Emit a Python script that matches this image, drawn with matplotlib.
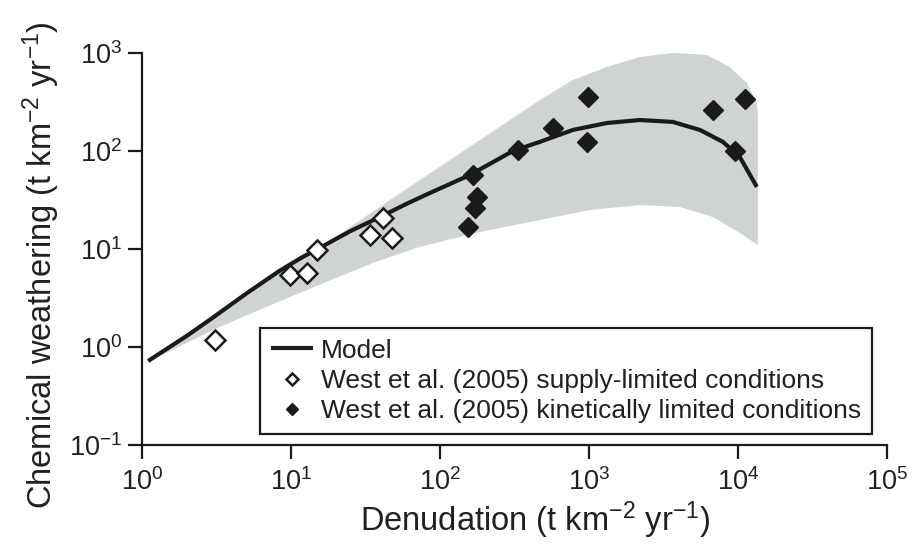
import numpy as np
import matplotlib
matplotlib.use("Agg")
import matplotlib.pyplot as plt

plt.rcParams['font.family'] = ['Liberation Sans', 'DejaVu Sans']
plt.rcParams['mathtext.default'] = 'regular'

# model curve
model_x = [1.1, 2.0, 3.0, 5.0, 8.4, 12.0, 16.4, 25, 39.6, 60, 85.7, 159, 309, 469, 781, 1321, 2200, 3660, 5560, 7930, 10300, 13400]
model_y = [0.72, 1.3, 2.0, 3.5, 6.0, 8.3, 10.7, 15.2, 21.2, 29, 37.3, 56.9, 100, 124, 164, 193, 207, 198, 164, 124, 87, 43]

# uncertainty band edges
upper_x = [1.1, 3.0, 8.4, 16.4, 54, 185, 469, 781, 1321, 2200, 3660, 6190, 8830, 11500, 13400, 13600]
upper_y = [0.72, 2.0, 6.0, 10.9, 37, 129, 331, 530, 720, 910, 1000, 955, 720, 494, 309, 240]
lower_x = [1.13, 3.19, 9.85, 35.5, 73, 185, 469, 1016, 2200, 4080, 6790, 10300, 13600]
lower_y = [0.72, 1.56, 3.24, 7.2, 10.5, 14.9, 19.8, 25, 28.1, 26.8, 21.2, 14.6, 11]

# West et al. (2005) supply-limited
supply_x = [3.1, 9.85, 12.8, 14.9, 33.9, 41.4, 47.6]
supply_y = [1.18, 5.43, 5.7, 9.8, 13.9, 20.7, 12.9]

# West et al. (2005) kinetically limited
kin_x = [166, 177, 172, 154, 334, 573, 985, 970, 6800, 11100, 9550]
kin_y = [56.9, 34, 26.2, 16.8, 102, 172, 356, 124, 262, 340, 100]

txt = '#231f20'

fig = plt.figure(figsize=(9.19, 5.44), dpi=100)
ax = fig.add_axes([0.1545, 0.182, 0.8105, 0.7206])

band_x = upper_x + lower_x[::-1]
band_y = upper_y + lower_y[::-1]
ax.fill(band_x, band_y, color='#cfd3d4', lw=0, zorder=1)

ax.plot(model_x, model_y, color='#1a1a1a', lw=3, zorder=2, label='Model',
        solid_capstyle='butt')
ax.plot(supply_x, supply_y, ls='none', marker='D', ms=10, mfc='white',
        mec='#1a1a1a', mew=1.8, zorder=3,
        label='West et al. (2005) supply-limited conditions')
ax.plot(kin_x, kin_y, ls='none', marker='D', ms=10, mfc='#1a1a1a',
        mec='#1a1a1a', mew=1, zorder=3,
        label='West et al. (2005) kinetically limited conditions')

ax.set_xscale('log')
ax.set_yscale('log')
ax.set_xlim(1, 1e5)
ax.set_ylim(0.1, 1000)
ax.minorticks_off()

for s in ['top', 'right']:
    ax.spines[s].set_visible(False)
for s in ['left', 'bottom']:
    ax.spines[s].set_linewidth(1.6)
    ax.spines[s].set_color('#1a1a1a')

ax.tick_params(axis='both', which='major', direction='out', length=10, width=1.6,
               labelsize=19.5, colors='#1a1a1a', labelcolor=txt)
ax.tick_params(axis='x', pad=7)
ax.tick_params(axis='y', pad=4)

ax.set_xlabel('Denudation (t km$^{-2}$ yr$^{-1}$)', fontsize=23.5, color=txt)
ax.set_ylabel('Chemical weathering (t km$^{-2}$ yr$^{-1}$)', fontsize=23.5, color=txt)
ax.xaxis.set_label_coords(0.5275, -0.14)
ax.yaxis.set_label_coords(-0.108, 0.46)

leg = ax.legend(loc='lower right', bbox_to_anchor=(0.98, 0.028), fontsize=19,
                frameon=True, fancybox=False, edgecolor='#1a1a1a', framealpha=1,
                markerscale=0.65, handlelength=1.6, handletextpad=0.3,
                labelspacing=0.24, borderpad=0.41, borderaxespad=0)
leg.get_frame().set_linewidth(1.6)
for t in leg.get_texts():
    t.set_color(txt)

fig.savefig('out.png', dpi=100)
